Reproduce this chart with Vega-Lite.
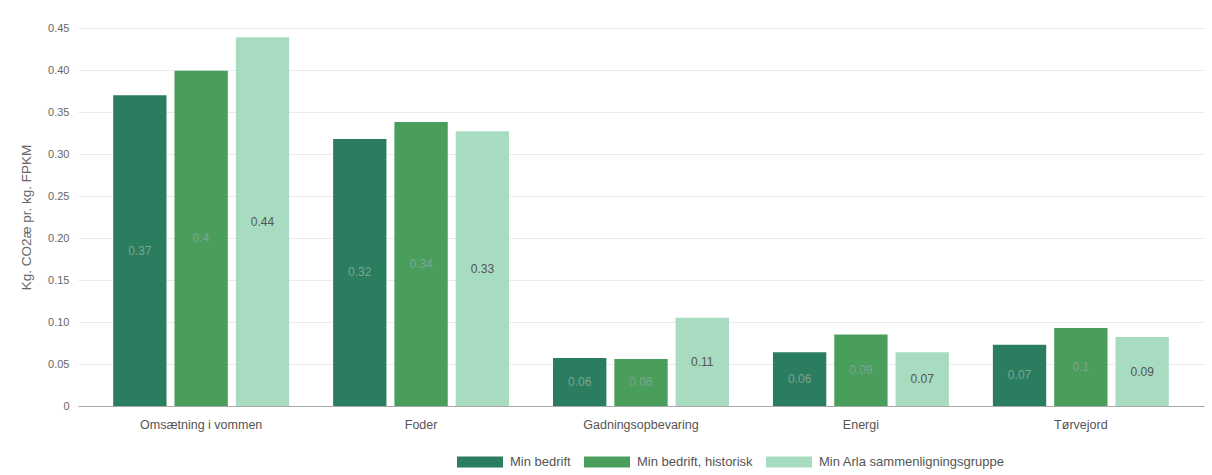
{
  "$schema": "https://vega.github.io/schema/vega-lite/v6.json",
  "width": 1126,
  "height": 378,
  "autosize": "none",
  "padding": {"left": 78, "top": 28, "right": 8, "bottom": 69},
  "background": "white",
  "config": {"view": {"stroke": null}, "font": "Liberation Sans"},
  "data": {
    "values": [
      {"kategori": "Omsætning i vommen", "serie": "Min bedrift", "value": 0.370, "label": "0.37"},
      {"kategori": "Omsætning i vommen", "serie": "Min bedrift, historisk", "value": 0.399, "label": "0.4"},
      {"kategori": "Omsætning i vommen", "serie": "Min Arla sammenligningsgruppe", "value": 0.439, "label": "0.44"},
      {"kategori": "Foder", "serie": "Min bedrift", "value": 0.318, "label": "0.32"},
      {"kategori": "Foder", "serie": "Min bedrift, historisk", "value": 0.338, "label": "0.34"},
      {"kategori": "Foder", "serie": "Min Arla sammenligningsgruppe", "value": 0.327, "label": "0.33"},
      {"kategori": "Gadningsopbevaring", "serie": "Min bedrift", "value": 0.057, "label": "0.06"},
      {"kategori": "Gadningsopbevaring", "serie": "Min bedrift, historisk", "value": 0.056, "label": "0.06"},
      {"kategori": "Gadningsopbevaring", "serie": "Min Arla sammenligningsgruppe", "value": 0.105, "label": "0.11"},
      {"kategori": "Energi", "serie": "Min bedrift", "value": 0.064, "label": "0.06"},
      {"kategori": "Energi", "serie": "Min bedrift, historisk", "value": 0.085, "label": "0.09"},
      {"kategori": "Energi", "serie": "Min Arla sammenligningsgruppe", "value": 0.064, "label": "0.07"},
      {"kategori": "Tørvejord", "serie": "Min bedrift", "value": 0.073, "label": "0.07"},
      {"kategori": "Tørvejord", "serie": "Min bedrift, historisk", "value": 0.093, "label": "0.1"},
      {"kategori": "Tørvejord", "serie": "Min Arla sammenligningsgruppe", "value": 0.082, "label": "0.09"}
    ]
  },
  "encoding": {
    "x": {
      "field": "kategori",
      "type": "nominal",
      "sort": ["Omsætning i vommen", "Foder", "Gadningsopbevaring", "Energi", "Tørvejord"],
      "scale": {"paddingInner": 0.2, "paddingOuter": 0.16},
      "axis": {
        "title": null,
        "labelAngle": 0,
        "labelFontSize": 12.5,
        "labelColor": "#555",
        "domainColor": "#aaa",
        "ticks": false,
        "labelPadding": 12
      }
    },
    "xOffset": {
      "field": "serie",
      "sort": ["Min bedrift", "Min bedrift, historisk", "Min Arla sammenligningsgruppe"],
      "scale": {"paddingInner": 0.13}
    }
  },
  "layer": [
    {
      "mark": {"type": "bar"},
      "encoding": {
        "y": {
          "field": "value",
          "type": "quantitative",
          "scale": {"domain": [0, 0.45], "nice": false},
          "axis": {
            "title": "Kg. CO2æ pr. kg. FPKM",
            "titleFontSize": 13.5,
            "titleFontWeight": "normal",
            "titleColor": "#666",
            "titlePadding": 14,
            "values": [0, 0.05, 0.1, 0.15, 0.2, 0.25, 0.3, 0.35, 0.4, 0.45],
            "labelExpr": "datum.value == 0 ? '0' : format(datum.value, '.2f')",
            "labelFontSize": 11,
            "labelColor": "#666",
            "labelPadding": 9,
            "ticks": false,
            "domain": false,
            "grid": true,
            "gridColor": "#ebebeb"
          }
        },
        "color": {
          "field": "serie",
          "type": "nominal",
          "scale": {
            "domain": ["Min bedrift", "Min bedrift, historisk", "Min Arla sammenligningsgruppe"],
            "range": ["#2b7d5f", "#4a9e5c", "#a7dcc0"]
          },
          "legend": {
            "orient": "none",
            "legendX": 379,
            "legendY": 411,
            "direction": "horizontal",
            "title": null,
            "symbolType": "M-1,-0.24L1,-0.24L1,0.24L-1,0.24Z",
            "symbolSize": 2116,
            "symbolStrokeWidth": 0,
            "symbolOpacity": 1,
            "labelFontSize": 13,
            "labelColor": "#555",
            "labelOffset": 7,
            "labelLimit": 400,
            "columnPadding": 13
          }
        }
      }
    },
    {
      "transform": [{"calculate": "datum.value / 2", "as": "mid"}],
      "mark": {"type": "text", "fontSize": 12, "baseline": "middle", "align": "center"},
      "encoding": {
        "y": {"field": "mid", "type": "quantitative"},
        "text": {"field": "label"},
        "color": {
          "condition": {"test": "datum.serie === 'Min Arla sammenligningsgruppe'", "value": "#555"},
          "value": "#7ba58f"
        }
      }
    }
  ]
}
